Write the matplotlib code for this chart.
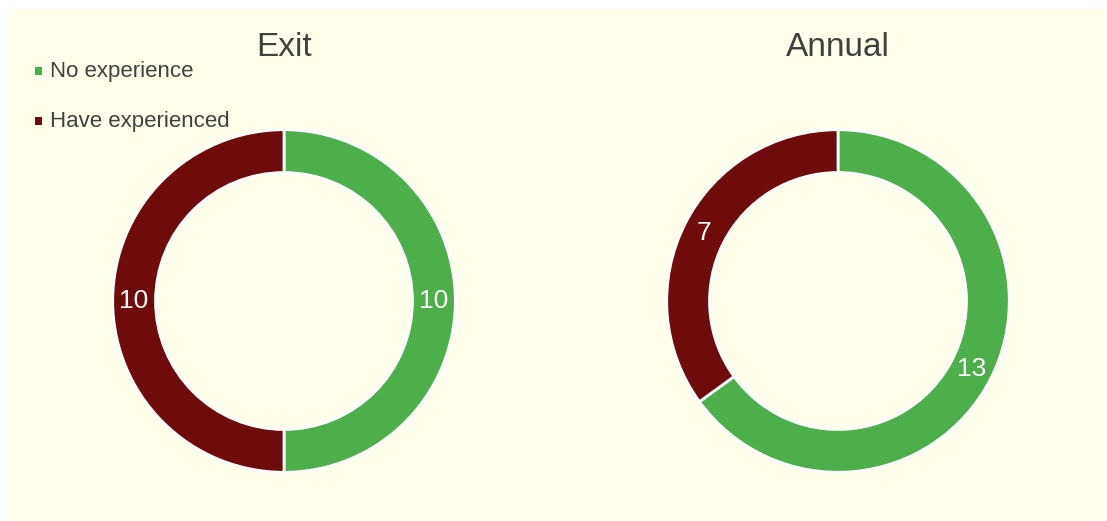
import matplotlib.pyplot as plt
from matplotlib.patches import Rectangle

plt.rcParams['font.family'] = ['Liberation Sans', 'DejaVu Sans']

# Data
categories = ['No experience', 'Have experienced']
exit_values = [10, 10]
annual_values = [13, 7]
titles = ['Exit', 'Annual']
colors = ['#4CAF4A', '#6E0C0C']
bg = '#FFFFEB'

W, H = 1107, 521
fig = plt.figure(figsize=(W / 100, H / 100), dpi=100)
fig.patch.set_facecolor('white')
# light yellow panel
fig.patches.append(Rectangle((9 / W, 0), (1106 - 9) / W, (H - 10) / H,
                             transform=fig.transFigure, facecolor=bg,
                             edgecolor='none', zorder=-10))

centers = [(284, 301), (838, 301)]
R = 173

for (cx, cy), vals, title in zip(centers, [exit_values, annual_values], titles):
    ax = fig.add_axes([(cx - R) / W, (H - cy - R) / H, 2 * R / W, 2 * R / H])
    ax.set_zorder(2)
    ax.patch.set_visible(False)
    ax.pie(vals, colors=colors, startangle=90, counterclock=False,
           radius=1.0, labels=[str(v) for v in vals], labeldistance=0.875,
           wedgeprops=dict(width=0.25, edgecolor='white', linewidth=2),
           textprops=dict(color='white', fontsize=19, ha='center', va='center'))
    ax.set_xlim(-1.01, 1.01)
    ax.set_ylim(-1.01, 1.01)
    ax.set_aspect('equal')
    fig.text(cx / W, 1 - 47 / H, title, ha='center', va='center',
             fontsize=24, color='#404040')

# legend
for i, (lab, col) in enumerate(zip(categories, colors)):
    y = 1 - (71 + i * 50) / H
    fig.patches.append(Rectangle((35 / W, y - 3.5 / H), 7 / W, 7 / H,
                                 transform=fig.transFigure, facecolor=col,
                                 edgecolor='none', zorder=3))
    fig.text(50 / W, y, lab, ha='left', va='center', fontsize=16, color='#404040')

plt.savefig('out.png', dpi=100, facecolor=fig.get_facecolor())
